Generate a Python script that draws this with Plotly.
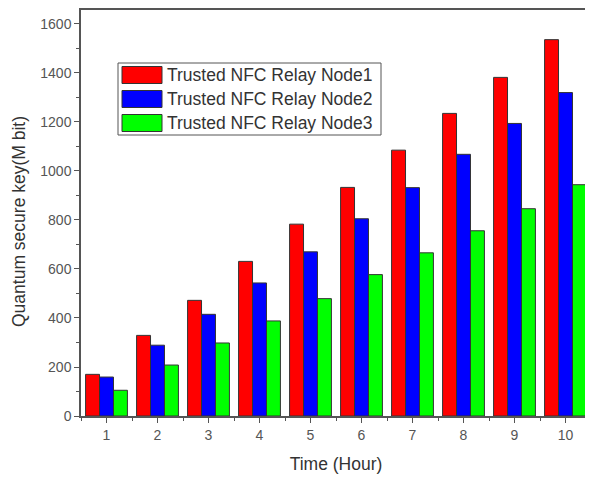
import plotly.graph_objects as go

hours = [1, 2, 3, 4, 5, 6, 7, 8, 9, 10]
node1 = [170, 329, 472, 631, 783, 933, 1085, 1235, 1382, 1536]
node2 = [159, 289, 415, 543, 670, 805, 932, 1068, 1194, 1320]
node3 = [105, 208, 298, 388, 479, 577, 666, 756, 846, 944]
names = ["Trusted NFC Relay Node1", "Trusted NFC Relay Node2", "Trusted NFC Relay Node3"]
colors = ["#ff0000", "#0000ff", "#00ff00"]
series = [node1, node2, node3]

fig = go.Figure()
for nm, vals, c in zip(names, series, colors):
    fig.add_trace(go.Bar(x=hours, y=vals, name=nm, marker=dict(color=c, line=dict(color="#333333", width=1)),
                         showlegend=False))

font = "Liberation Sans, Arial, sans-serif"
axcol = "#555555"
# page body has an 8px default margin, so the figure is offset by (8, 8)
W, H = 585, 470
L, R, T, B = 73, 2, 2, 62
pw, ph = W - L - R, H - T - B
fig.update_layout(
    width=W, height=H,
    margin=dict(l=L, r=R, t=T, b=B),
    paper_bgcolor="white", plot_bgcolor="white",
    barmode="group", bargap=0.18, bargroupgap=0,
    font=dict(family=font, size=12, color="#444444"),
    xaxis=dict(range=[0.5, 10.5], tickmode="linear", tick0=1, dtick=1, automargin=False,
               showline=True, linecolor=axcol, linewidth=1.5, mirror="allticks",
               ticks="outside", ticklen=5, tickcolor=axcol, showgrid=False, zeroline=False,
               minor=dict(tickmode="linear", tick0=0.5, dtick=0.5, ticks="outside", ticklen=3, tickcolor=axcol),
               title=dict(text="Time (Hour)", font=dict(size=17.5, color="#333333"), standoff=16),
               tickfont=dict(size=14, color="#555555")),
    yaxis=dict(range=[0, 1657], tickmode="linear", tick0=0, dtick=200, automargin=False,
               showline=True, linecolor=axcol, linewidth=1.5, mirror="allticks",
               ticks="outside", ticklen=5, tickcolor=axcol, showgrid=False, zeroline=False,
               minor=dict(tickmode="linear", tick0=0, dtick=100, ticks="outside", ticklen=3, tickcolor=axcol),
               tickfont=dict(size=14, color="#555555")),
)

def px_x(sx):
    return (sx - 8 - L) / pw

def px_y(sy):
    return 1 - (sy - 8 - T) / ph

# y-axis title, placed slightly below the plot-area centre as in the original
fig.add_annotation(xref="paper", yref="paper", x=px_x(19), y=px_y(222), text="Quantum secure key(M bit)",
                   textangle=-90, showarrow=False, xanchor="center", yanchor="middle",
                   font=dict(size=17.5, color="#333333", family=font))

# custom legend (large swatches like the original)
fig.add_shape(type="rect", xref="paper", yref="paper", x0=px_x(118), x1=px_x(381), y0=px_y(135), y1=px_y(63),
              line=dict(color="#555555", width=1), fillcolor="white")
row_px = [75, 99, 123]
for nm, c, py in zip(names, colors, row_px):
    fig.add_shape(type="rect", xref="paper", yref="paper",
                  x0=px_x(122), x1=px_x(162), y0=px_y(py + 8.5), y1=px_y(py - 8.5),
                  line=dict(color="#333333", width=1), fillcolor=c)
    fig.add_annotation(xref="paper", yref="paper", x=px_x(165), y=px_y(py), text=nm,
                       showarrow=False, xanchor="left", yanchor="middle",
                       font=dict(size=17.5, color="#333333", family=font))

fig.write_html("out.html")
